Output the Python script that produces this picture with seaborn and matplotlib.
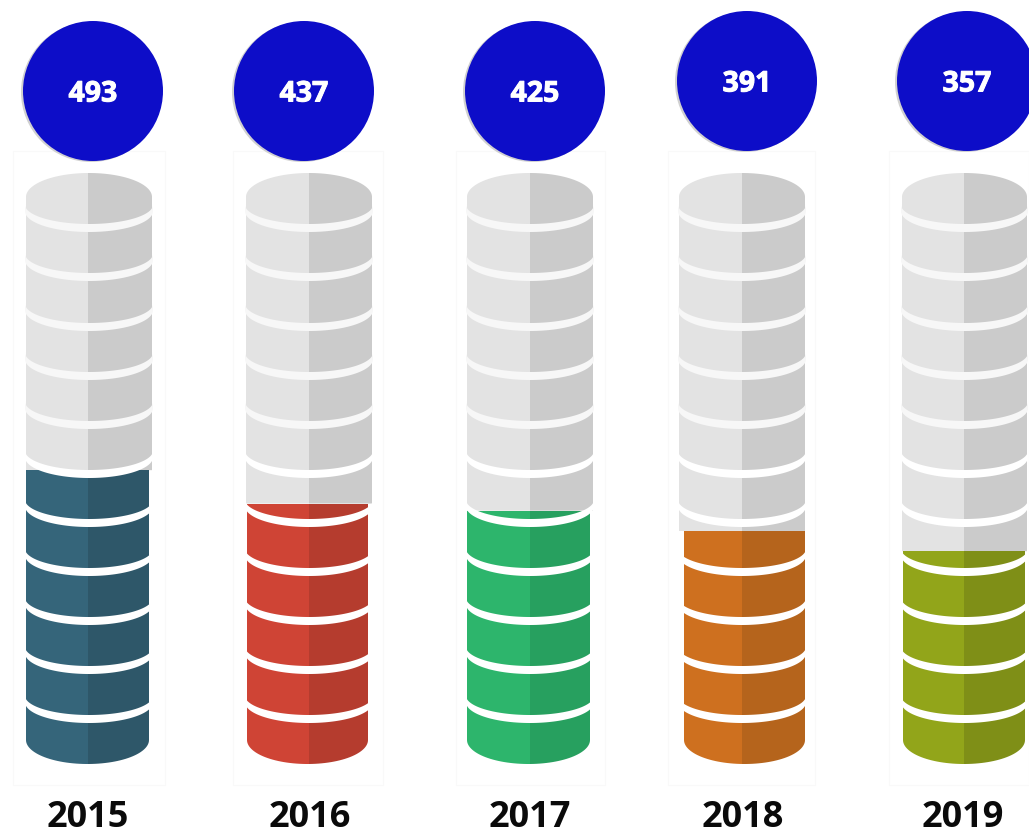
import numpy as np
import pandas as pd
import matplotlib
matplotlib.use("Agg")
import matplotlib.pyplot as plt
import matplotlib.patheffects as pe
import seaborn as sns
from matplotlib.patches import Circle, Rectangle, Polygon
from matplotlib.path import Path
from matplotlib.transforms import Affine2D

# ---- data ----
years = ["2015", "2016", "2017", "2018", "2019"]
values = [493, 437, 425, 391, 357]
capacity = 1000

# ---- styles ----
colors_light = ["#35657A", "#CF4435", "#2DB56C", "#CE701F", "#92A51A"]
colors_dark = ["#2E5769", "#B53C2E", "#27A05F", "#B5641C", "#7F8F17"]
grey_light, grey_dark = "#E3E3E3", "#CBCBCB"
circle_color = "#0D0DC8"

# ---- layout (pixels) ----
W, H = 1029, 834
PX_PER_UNIT = 0.596
BASE_PX = 764
splits = [88, 309, 530, 742, 964]
grey_edges = [(26, 152), (246, 372), (467, 593), (679, 805), (902, 1027)]
fill_edges = [(26, 149), (247, 368), (467, 590), (684, 805), (903, 1025)]
circle_xy = [(93, 91), (304, 91), (535, 91), (747, 81), (967, 81)]
frames = [(13, 165), (233, 383), (456, 605), (668, 815), (889, 1029)]
year_x = [88, 310, 530, 743, 963]
ring_centers = [719, 670, 621, 572, 523, 474, 425, 376, 327, 277, 228]

sns.set_theme(style="white")
plt.rcParams["font.family"] = ["Open Sans", "DejaVu Sans"]

fig = plt.figure(figsize=(W / 100, H / 100), dpi=100, facecolor="white")
ax = fig.add_axes([0, 0, 1, 1])
px = Affine2D().scale(1, -1).translate(0, H)  # top-left pixel coordinates


def cylinder(x0, x1, top_cy=None, top_ry=24, bot_cy=740, bot_ry=24):
    """Clip outline of a cylinder in pixel coordinates."""
    cx, hw = (x0 + x1) / 2, (x1 - x0) / 2
    t = np.linspace(0, np.pi, 60)
    bx, by = cx + hw * np.cos(t), bot_cy + bot_ry * np.sin(t)
    if top_cy is None:
        xs = np.r_[bx, x0, x1]
        ys = np.r_[by, -10, -10]
    else:
        xs = np.r_[bx, cx + hw * np.cos(t + np.pi)]
        ys = np.r_[by, top_cy + top_ry * np.sin(t + np.pi)]
    return Path(np.c_[xs, ys])


def halves(split, width, value, light, dark, clip):
    """Two dodged half bars meeting at the split of one column."""
    df = pd.DataFrame({"pos": [split, split], "val": [value, value],
                       "side": ["left", "right"]})
    before = len(ax.patches)
    sns.barplot(data=df, x="pos", y="val", hue="side", hue_order=["left", "right"],
                native_scale=True, width=width, gap=0, dodge=True, legend=False,
                palette=[light, dark], saturation=1, errorbar=None,
                linewidth=0, ax=ax)
    for p in ax.patches[before:]:
        p.set_clip_path(clip, px)


def ring(cx, hw, yc, color, ry=20, thin=6.5, thick=8):
    """White band following the lower rim of a disc; its centre line bottoms at yc."""
    t = np.linspace(0, np.pi, 80)
    half = (thin + (thick - thin) * np.sin(t)) / 2
    mid = yc - ry + ry * np.sin(t)
    xs = cx + hw * np.cos(t)
    pts = np.r_[np.c_[xs, mid + half], np.c_[xs, mid - half][::-1]]
    ax.add_patch(Polygon(pts, closed=True, transform=px, fc=color, ec="none", zorder=5))


for i, year in enumerate(years):
    x0, x1 = frames[i]
    ax.add_patch(Rectangle((x0, 151), x1 - x0, 634, transform=px, fill=False,
                           ec="#F9F9F9", lw=0.8))

    s = splits[i]
    g0, g1 = grey_edges[i]
    f0, f1 = fill_edges[i]
    level_px = BASE_PX - values[i] * PX_PER_UNIT
    bar_w = 2 * max(s - g0, g1 - s) + 2
    halves(s, bar_w, capacity, grey_light, grey_dark,
           cylinder(g0, g1, top_cy=197, bot_cy=level_px, bot_ry=0))
    halves(s, bar_w, values[i], colors_light[i], colors_dark[i], cylinder(f0, f1))

    for yc in ring_centers:
        ring((g0 + g1) / 2, (g1 - g0) / 2 + 1, yc, "white" if yc >= 474 else "#F7F7F7")

    cx, cy = circle_xy[i]
    ax.add_patch(Circle((cx - 2, cy + 1), 70, transform=px, fc="#D0D0D0", ec="none", zorder=6))
    ax.add_patch(Circle((cx, cy), 70, transform=px, fc=circle_color, ec="none", zorder=7))
    ax.text(cx, cy + 3, str(values[i]), transform=px, color="white", fontweight="bold",
            fontsize=20.5, ha="center", va="center", zorder=8,
            path_effects=[pe.withStroke(linewidth=0.7, foreground="white")])
    ax.text(year_x[i], 818, year, transform=px, color="#0A0A0A", fontweight="bold",
            fontsize=26, ha="center", va="center", zorder=8)

ax.set_xlim(0, W)
ax.set_ylim((BASE_PX - H) / PX_PER_UNIT, BASE_PX / PX_PER_UNIT)
ax.axis("off")
fig.savefig("out.png", dpi=100, facecolor="white")
